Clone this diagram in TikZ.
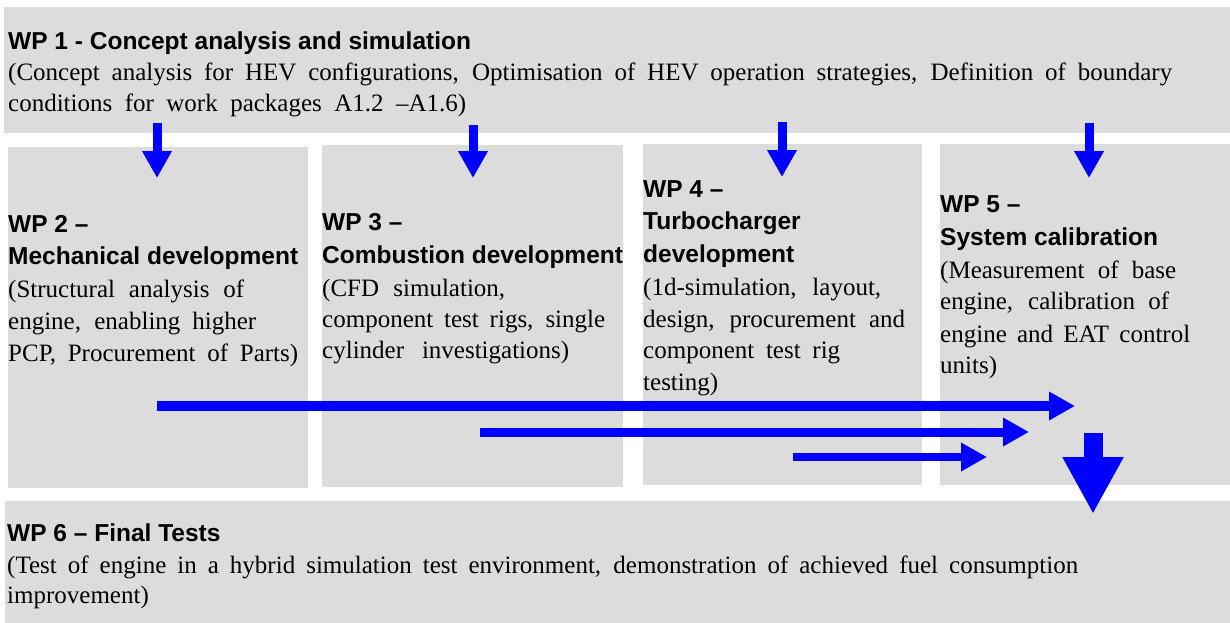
\documentclass[tikz,border=0pt]{standalone}
\usepackage{fontspec}
\setmainfont{Liberation Serif}
\newfontfamily\wpsans{Liberation Sans}
\newfontfamily\wpserif{Liberation Serif}
\usetikzlibrary{arrows.meta}
\definecolor{boxgray}{HTML}{DCDCDC}
\definecolor{arrblue}{HTML}{0000FF}
\newcommand{\jl}[2]{\makebox[#1pt][s]{#2}}
\begin{document}
\begin{tikzpicture}[x=1pt,y=-1pt,
  wpbox/.style={fill=boxgray, draw=none, anchor=north west, inner sep=0pt, outer sep=0pt},
  ttl/.style={font={\wpsans\bfseries\fontsize{24.5}{28}\selectfont}, anchor=base west, inner sep=0pt},
  txt/.style={font={\wpserif\fontsize{25}{28}\selectfont}, anchor=base west, inner sep=0pt},
  darr/.style={arrblue, line width=9pt, -{Triangle[width=28pt,length=27pt]}},
  harr/.style={arrblue, -{Triangle[width=27pt,length=26pt]}},
  bigarr/.style={arrblue, line width=19pt, -{Triangle[width=57pt,length=57pt]}}
]
\fill[white] (0,0) rectangle (1230,623);
\useasboundingbox (0,0) rectangle (1230,623);

% boxes
\node[wpbox, minimum width=1226pt, minimum height=126pt] (wp1) at (4,7) {};
\node[wpbox, minimum width=300pt, minimum height=341pt] (wp2) at (8,147) {};
\node[wpbox, minimum width=301pt, minimum height=342pt] (wp3) at (322,145) {};
\node[wpbox, minimum width=279pt, minimum height=341pt] (wp4) at (643,144) {};
\node[wpbox, minimum width=290pt, minimum height=341pt] (wp5) at (940,144) {};
\node[wpbox, minimum width=1225pt, minimum height=122pt] (wp6) at (5,501) {};

% WP1 text
\node[ttl] (wp1t) at (8,50) {WP 1 - Concept analysis and simulation};
\node[txt] (wp1a) at (8,81) {\jl{1164}{(Concept analysis for HEV configurations, Optimisation of HEV operation strategies, Definition of boundary}};
\node[txt] (wp1b) at (8,111) {\jl{458}{conditions for work packages A1.2 –A1.6)}};

% WP2 text
\node[ttl] (wp2t) at (8,232) {WP 2 –};
\node[ttl] (wp2u) at (8,264) {Mechanical development};
\node[txt] (wp2a) at (8,297) {\jl{236}{(Structural analysis of}};
\node[txt] (wp2b) at (8,329) {\jl{248}{engine, enabling higher}};
\node[txt] (wp2c) at (8,361) {\jl{290}{PCP, Procurement of Parts)}};

% WP3 text
\node[ttl] (wp3t) at (322,230) {WP 3 –};
\node[ttl] (wp3u) at (322,263) {Combustion development};
\node[txt] (wp3a) at (322,296) {\jl{183}{(CFD simulation,}};
\node[txt] (wp3b) at (322,327) {\jl{283}{component test rigs, single}};
\node[txt] (wp3c) at (322,358) {\jl{247}{cylinder investigations)}};

% WP4 text
\node[ttl] (wp4t) at (643,197) {WP 4 –};
\node[ttl] (wp4u) at (643,229) {Turbocharger};
\node[ttl] (wp4v) at (643,262) {development};
\node[txt] (wp4a) at (643,295) {\jl{238}{(1d-simulation, layout,}};
\node[txt] (wp4b) at (643,327) {\jl{262}{design, procurement and}};
\node[txt] (wp4c) at (643,358) {\jl{197}{component test rig}};
\node[txt] (wp4d) at (643,390) {testing)};

% WP5 text
\node[ttl] (wp5t) at (940,212) {WP 5 –};
\node[ttl] (wp5u) at (940,245) {System calibration};
\node[txt] (wp5a) at (940,278) {\jl{236}{(Measurement of base}};
\node[txt] (wp5b) at (940,309) {\jl{229}{engine, calibration of}};
\node[txt] (wp5c) at (940,342) {\jl{250}{engine and EAT control}};
\node[txt] (wp5d) at (940,373) {units)};

% WP6 text
\node[ttl] (wp6t) at (7,541) {WP 6 – Final Tests};
\node[txt] (wp6a) at (7,573) {\jl{1071}{(Test of engine in a hybrid simulation test environment, demonstration of achieved fuel consumption}};
\node[txt] (wp6b) at (7,603) {improvement)};

% arrow end points
\coordinate (d2s) at (157,123); \coordinate (d2e) at (157,178);
\coordinate (d3s) at (473,125); \coordinate (d3e) at (473,178);
\coordinate (d4s) at (782,122); \coordinate (d4e) at (782,177);
\coordinate (d5s) at (1089,123); \coordinate (d5e) at (1089,178);
\coordinate (h1s) at (157,406); \coordinate (h1e) at (1075,406);
\coordinate (h2s) at (480,432); \coordinate (h2e) at (1029,432);
\coordinate (h3s) at (793,457); \coordinate (h3e) at (987,457);
\coordinate (bs) at (1093,433); \coordinate (be) at (1093,514);

% arrows
\draw[darr] (d2s) -- (d2e);
\draw[darr] (d3s) -- (d3e);
\draw[darr] (d4s) -- (d4e);
\draw[darr] (d5s) -- (d5e);
\draw[harr, line width=10pt] (h1s) -- (h1e);
\draw[harr, line width=9pt] (h2s) -- (h2e);
\draw[harr, line width=8pt] (h3s) -- (h3e);
\draw[bigarr] (bs) -- (be);
\end{tikzpicture}
\end{document}
